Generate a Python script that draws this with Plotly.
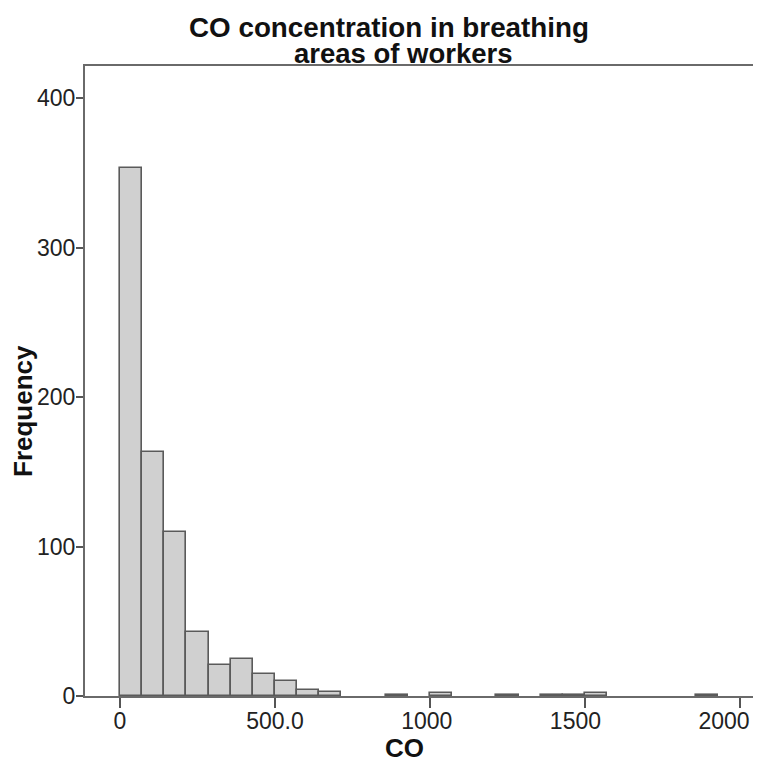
import plotly.graph_objects as go

# Histogram data
bin_start = 0.0
bin_width = 500.0 / 7.0
counts = [353, 163, 110, 43, 21, 25, 15, 10, 4, 3, 0, 0, 1, 0, 2, 0, 0, 1, 0, 1, 1, 2, 0, 0, 0, 0, 1]

x_tickvals = [0, 500, 1000, 1500, 2000]
x_ticktext = ["0", "500.0", "1000", "1500", "2000"]
# the reference nudges the right-hand labels leftwards; trailing no-break spaces reproduce it
x_tick_pad = [0, 0, 1, 3, 5]
y_tickvals = [0, 100, 200, 300, 400]
y_ticktext = ["0", "100", "200", "300", "400"]

title_lines = ["CO concentration in breathing", "areas of workers"]
x_title = "CO"
y_title = "Frequency"

centers = [bin_start + (i + 0.5) * bin_width for i in range(len(counts))]
xs = [c for c, n in zip(centers, counts) if n > 0]
ys = [n for n in counts if n > 0]

FONT = "Liberation Sans, Arial, sans-serif"

# page body has an 8px margin; compensate so the plot lands where the reference has it
OFF = 8
L, T, B = 85, 66, 71
PW, PH = 676, 630

fig = go.Figure()
fig.add_trace(go.Bar(
    x=xs, y=ys, width=bin_width,
    marker=dict(color="#d0d0d0", line=dict(color="#5a5a5a", width=1.6)),
    hoverinfo="x+y",
))

def px_x(p):
    return (p - L) / PW

def px_y(p):
    return (T + PH - p) / PH

fig.update_layout(
    width=761 - OFF, height=767 - OFF,
    margin=dict(l=L - OFF, r=0, t=T - OFF, b=B, autoexpand=False),
    paper_bgcolor="white", plot_bgcolor="white",
    showlegend=False,
    bargap=0,
    font=dict(family=FONT, color="#222222"),
    xaxis=dict(
        range=[-112.9, 2067.7],
        automargin=False,
        tickvals=x_tickvals,
        ticktext=[t + "\u00a0" * p for t, p in zip(x_ticktext, x_tick_pad)],
        ticks="outside", ticklen=10, tickwidth=1.5, tickcolor="#555555",
        ticklabelstandoff=-7, ticklabeloverflow="allow",
        showline=True, linecolor="#6a6a6a", linewidth=2, mirror=True,
        showgrid=False, zeroline=False,
        tickfont=dict(size=23, family=FONT, color="#222222"),
    ),
    yaxis=dict(
        range=[0, 421.4],
        automargin=False,
        tickvals=y_tickvals, ticktext=y_ticktext,
        ticks="outside", ticklen=7, tickwidth=1.5, tickcolor="#555555",
        ticklabelstandoff=-4,
        showline=True, linecolor="#6a6a6a", linewidth=2,
        showgrid=False, zeroline=False,
        tickfont=dict(size=23, family=FONT, color="#222222"),
    ),
    annotations=[
        dict(text="<b>%s</b>" % title_lines[0], xref="paper", yref="paper",
             x=px_x(389), y=1, xanchor="center", yanchor="bottom", yshift=21,
             showarrow=False, font=dict(size=27.8, family=FONT, color="#111111")),
        dict(text="<b>%s</b>" % title_lines[1], xref="paper", yref="paper",
             x=px_x(403.5), y=1, xanchor="center", yanchor="bottom", yshift=-5,
             showarrow=False, font=dict(size=27.5, family=FONT, color="#111111")),
        dict(text="<b>%s</b>" % x_title, xref="paper", yref="paper",
             x=px_x(404), y=px_y(748), xanchor="center", yanchor="middle",
             showarrow=False, font=dict(size=26, family=FONT, color="#111111")),
        dict(text="<b>%s</b>" % y_title, xref="paper", yref="paper",
             x=px_x(23), y=px_y(411), xanchor="center", yanchor="middle",
             textangle=-90,
             showarrow=False, font=dict(size=26, family=FONT, color="#111111")),
    ],
)

fig.write_html("out.html")
